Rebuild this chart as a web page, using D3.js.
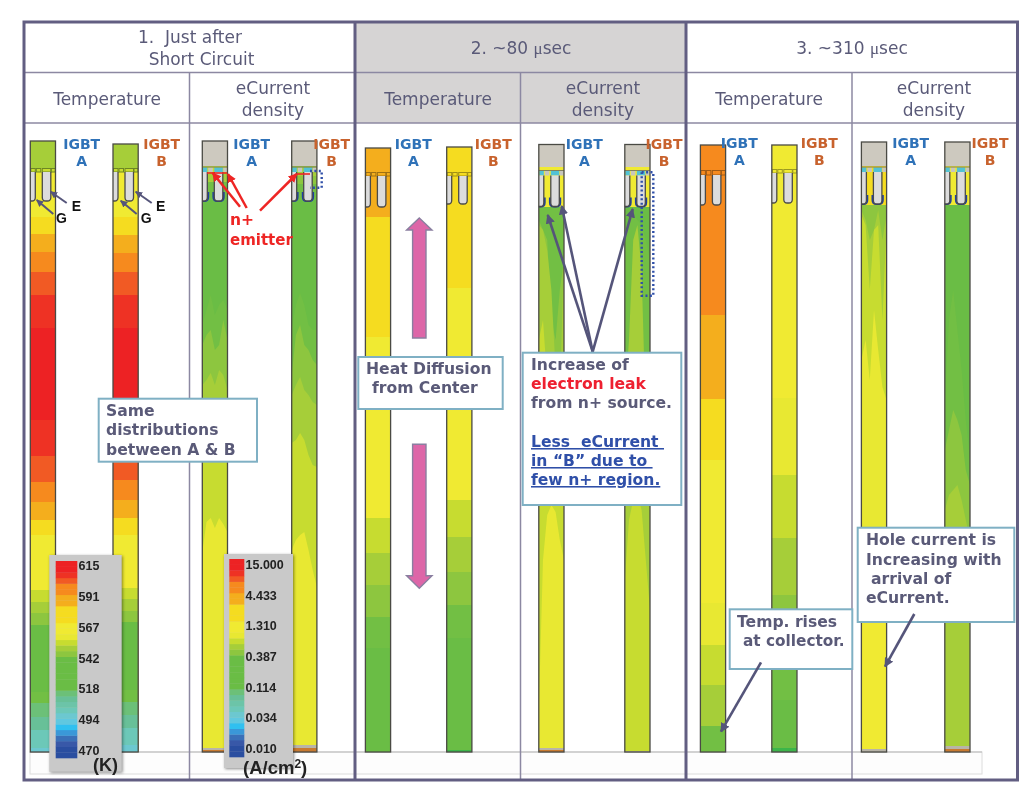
<!DOCTYPE html>
<html><head><meta charset="utf-8">
<script src="https://cdn.jsdelivr.net/npm/d3@7/dist/d3.min.js"></script>
<style>
html,body{margin:0;padding:0;background:#fff}
svg{display:block;filter:blur(0.35px)}
text{white-space:pre}
</style></head><body><svg id="c" width="1036" height="792"></svg>
<script>
// ---------- DATA ----------
// colour levels of the simulation (low to high), plus a few material colours
const levelColors = ['#2a4ea0','#3858a8','#3a70b8','#3a98d8','#30c0f0','#60c8e0','#6cc8d0','#6cc8b8','#6cc4a8','#68c098','#6cc078','#6abd45','#72bf44','#8dc63f','#a6ce39','#c7dc30','#e8e832','#f0ea32','#f5dc20','#f4ae1d','#f68a1e','#f15a24','#ee3224','#ed2224','#b8b4a8','#c87a30','#cdc9bf','#3cb54a'];
const GREY=24, BROWN=25, CAP=26, BRIGHT=27;
const legendSteps = [23,23,22,21,20,20,19,19,18,18,18,17,17,16,15,14,13,11,11,11,11,11,11,10,9,8,7,6,5,4,3,2,1,0,0].reverse();
const tempTicks = ['615','591','567','542','518','494','470'];
const currentTicks = ['15.000','4.433','1.310','0.387','0.114','0.034','0.010'];
const temperatureUnit = '(K)';
const panelTitles = [['1.  Just after','Short Circuit'],['2. ~80 ','μ','sec'],['3. ~310 ','μ','sec']];
const columnTitles = [['Temperature'],['eCurrent','density']];

// each band: [depth where it starts (one value, or a profile across the width), colour level]
const t1a = [[0,14],[28,15],[32,17],[77,18],[94,19],[112,20],[132,21],[155,22],[188,23],[280,22],[316,21],[342,20],[362,19],[380,18],[395,17],[450,15],[462,14],[473,13],[485,11],[552,12],[563,10],[577,9],[590,7],[608,6]];
const t1b = [[0,14],[28,15],[32,17],[77,18],[95,19],[113,20],[132,21],[155,22],[188,23],[275,22],[312,21],[340,20],[360,19],[378,18],[395,17],[448,15],[459,14],[471,13],[482,11],[550,12],[562,10],[575,9],[588,7],[605,6]];
const e1a = [[0,CAP],[26,15],[34,14],[42,12],[60,11],[[185,170,155,175,165,160,170],12],[[205,195,190,210,205,180,200],13],[[245,240,233,245,230,235,250],14],[[305,300,296,300,298,300,306],15],[[412,382,378,388,378,384,392],16],[608,GREY],[610,BROWN]];
const e1b = [[0,CAP],[26,14],[36,13],[44,12],[60,11],[[188,165,153,165,185,190,190],12],[[235,195,185,205,210,220,225],13],[[255,245,237,250,255,262,265],14],[[303,300,293,300,315,325,327],15],[[410,400,395,392,410,430,447],16],[605,GREY],[608,BROWN]];
const t2a = [[0,19],[77,18],[197,17],[378,15],[413,14],[445,13],[477,12],[508,11]];
const t2b = [[0,18],[148,17],[360,15],[397,14],[432,13],[465,12],[498,11],[610,BRIGHT]];
const e2a = [[0,CAP],[27,17],[67,12],[[80,90,100,180,200,150,120],13],[[85,90,110,150,230,260,110],14],[[200,180,240,300,310,290,250],15],[[570,420,375,365,372,400,420],16],[608,GREY],[610,BROWN]];
const e2b = [[0,CAP],[27,17],[67,11],[[90,80,75,80,85,100,120],12],[[260,200,100,85,130,280,330],14],[[440,380,360,355,370,420,470],15],[611,GREY]];
const t3a = [[0,20],[175,19],[259,18],[320,17],[463,16],[505,15],[545,14],[586,12]];
const t3b = [[0,17],[258,16],[335,15],[398,14],[455,13],[490,12],[560,11],[608,BRIGHT]];
const e3a = [[0,CAP],[26,18],[65,13],[[70,80,100,90,70,100,75],14],[[75,85,150,90,85,180,85],15],[[220,200,240,170,210,247,260],16],[440,17],[609,GREY]];
const e3b = [[0,CAP],[26,17],[65,11],[[260,180,150,190,230,280,320],12],[[310,290,270,280,295,330,345],13],[[370,355,350,345,360,380,400],14],[606,GREY],[609,BROWN]];

// ---------- LAYOUT ----------
const NAVY='#5a5a78', svg=d3.select('#c');
const y = d3.scaleLinear().domain([0,612]).range([140,752]);
const levelColor = d3.scaleOrdinal(d3.range(levelColors.length), levelColors);
const SANS='"DejaVu Sans",sans-serif';

const T=22,R1=72.5,R2=123,B=780,L=24,RR=1017.5;
const majors=[355,686], minors=[189.5,520.5,852];

svg.append('rect').attr('x',L).attr('y',T).attr('width',RR-L).attr('height',B-T).attr('fill','#fff');
svg.append('rect').attr('x',355).attr('y',T).attr('width',331).attr('height',R2-T).attr('fill','#d6d4d4');
// bottom strip
svg.append('rect').attr('x',30).attr('y',752).attr('width',952).attr('height',22).attr('fill','#fdfdfd').attr('stroke','#dcdcdc');
svg.append('line').attr('x1',30).attr('x2',982).attr('y1',752).attr('y2',752).attr('stroke','#b8b8b8').attr('stroke-width',1.2);

const barsDef=[
 {b:t1a,x:30.3,top:1,cap:27,row:31,end:60,mode:'T'},
 {b:t1b,x:113,top:4,cap:24,row:28,end:57,mode:'T'},
 {b:e1a,x:202.3,top:1,cap:26,row:31,end:60,mode:'E'},
 {b:e1b,x:291.7,top:1,cap:26,row:31,end:60,mode:'E'},
 {b:t2a,x:365.4,top:8,cap:24,row:28,end:59,mode:'T'},
 {b:t2b,x:446.7,top:7,cap:25,row:29,end:57,mode:'T'},
 {b:e2a,x:538.8,top:4.5,cap:26,row:31,end:62,mode:'E'},
 {b:e2b,x:624.8,top:4.5,cap:26,row:31,end:62,mode:'E'},
 {b:t3a,x:700.4,top:5,cap:25,row:30,end:60,mode:'T'},
 {b:t3b,x:771.8,top:5,cap:24,row:28,end:58,mode:'T'},
 {b:e3a,x:861.4,top:2,cap:25,row:30,end:62,mode:'E'},
 {b:e3b,x:944.8,top:2,cap:25,row:30,end:62,mode:'E'}
];
const W=25.2;
barsDef.forEach((d,i)=>{
  const g=svg.append('g');
  const xs=d3.scaleLinear().domain([0,1]).range([d.x,d.x+W]);
  const id='clip'+i;
  svg.append('clipPath').attr('id',id).append('rect').attr('x',d.x).attr('y',y(d.top)).attr('width',W).attr('height',y(612)-y(d.top));
  g.attr('clip-path',`url(#${id})`);
  d.b.forEach(([start,lv])=>{
    const prof=Array.isArray(start)?start:[start,start];
    const top=Math.max(d.top,0);
    const area=d3.area().x((v,k)=>xs(k/(prof.length-1))).y0(y(612)).y1(v=>y(Math.max(v,top)));
    g.append('path').attr('d',area(prof)).attr('fill',levelColor(lv));
  });
  const ty=y(d.top), cy=ty+d.cap, ry=y(d.top)+d.row, ey=y(d.top)+d.end;
  // trench row
  const cells=[[0.5,5],[6,10.5],[12,20.5],[21,25]];
  cells.forEach((c,k)=>{
    const r=g.append('rect').attr('x',d.x+c[0]).attr('y',cy+0.5).attr('width',c[1]-c[0]).attr('height',ry-cy-0.5);
    if(d.mode==='E') r.attr('fill',k%2===0&&k<3?'#52c2d6':'#c8c6bc');
    else r.attr('fill','none').attr('stroke',d3.color(levelColor(d.b[0][1])).darker(1.2)).attr('stroke-width',1);
  });
  // trenches (gate capsules)
  const capsule=(x1,x2,r,from)=>`M${x1},${from} V${ey-r} Q${x1},${ey} ${x1+r},${ey} H${x2-r} Q${x2},${ey} ${x2},${ey-r} V${from}`;
  [[ -3,5],[12,20.5]].forEach(([a,b])=>{
    const x1=d.x+a,x2=d.x+b;
    if(d.mode==='E') g.append('path').attr('d',capsule(x1-0.9,x2+0.9,4,ey-9)).attr('fill','none').attr('stroke','#1f3f9f').attr('stroke-width',2);
    g.append('path').attr('d',capsule(x1,x2,3.5,ry)).attr('fill','#dcdcdc').attr('stroke','#4a4a4a').attr('stroke-width',1.3);
  });
  if(d.mode==='E') g.append('line').attr('x1',d.x).attr('x2',d.x+W).attr('y1',cy).attr('y2',cy).attr('stroke','#666').attr('stroke-width',0.8);
  svg.append('rect').attr('x',d.x).attr('y',ty).attr('width',W).attr('height',y(612)-ty).attr('fill','none').attr('stroke','#4a4a44').attr('stroke-width',1.3);
});

// grid
const gridThin='#8c88a2', gridHeavy='#625e82';
[R1,R2].forEach(v=>svg.append('line').attr('x1',L).attr('x2',RR).attr('y1',v).attr('y2',v).attr('stroke',gridThin).attr('stroke-width',1.4));
minors.forEach((x,i)=>svg.append('line').attr('x1',x).attr('x2',x).attr('y1',R1).attr('y2',B).attr('stroke',gridThin).attr('stroke-width',1.5));
majors.forEach(x=>svg.append('line').attr('x1',x).attr('x2',x).attr('y1',T).attr('y2',B).attr('stroke',gridHeavy).attr('stroke-width',3));
svg.append('rect').attr('x',L).attr('y',T).attr('width',RR-L).attr('height',B-T).attr('fill','none').attr('stroke',gridHeavy).attr('stroke-width',3);

function txt(x,yy,s,o={}){
  return svg.append('text').attr('x',x).attr('y',yy).text(s)
   .attr('font-family',o.f||SANS).attr('font-size',o.s||17).attr('font-weight',o.w||'normal')
   .attr('fill',o.c||NAVY).attr('text-anchor',o.a||'start');
}
// headers
txt(190,43,panelTitles[0][0],{a:'middle'});
txt(201.5,65,panelTitles[0][1],{a:'middle'});
[[521,1],[852,2]].forEach(([x,i])=>{
  const t=txt(x,54,panelTitles[i][0],{a:'middle'});
  t.append('tspan').attr('font-family','"Liberation Serif",serif').text(panelTitles[i][1]);
  t.append('tspan').text(panelTitles[i][2]);
});
[[107,273],[438,603],[769,934]].forEach(([a,b])=>{
  txt(a,105,columnTitles[0][0],{a:'middle'});
  txt(b,94,columnTitles[1][0],{a:'middle'});
  txt(b,116,columnTitles[1][1],{a:'middle'});
});
// IGBT labels
const BLUE='#2f72b8', ORNG='#c8622d';
[[81.7,149,'A'],[161.7,149,'B'],[251.7,149,'A'],[331.7,149,'B'],[413.3,149,'A'],[493.3,149,'B'],[584.3,149,'A'],[664,149,'B'],[739.3,148,'A'],[819.3,148,'B'],[910.7,148,'A'],[990,148,'B']].forEach(([x,b,n])=>{
  const c=n==='A'?BLUE:ORNG;
  txt(x,b,'IGBT',{a:'middle',w:'bold',s:14,c});
  txt(x,b+16.5,n,{a:'middle',w:'bold',s:14,c});
});
// arrows
const defs=svg.append('defs');
[['hN',NAVY],['hR','#ee2524'],['hK','#55557a']].forEach(([id,c])=>{
  defs.append('marker').attr('id',id).attr('viewBox','0 0 10 10').attr('refX',9).attr('refY',5).attr('markerWidth',3.6).attr('markerHeight',3.6).attr('orient','auto')
   .append('path').attr('d','M0,0 L10,5 L0,10 Z').attr('fill',c);
});
function arrow(a,b,c,d,col,id,w){
  svg.append('line').attr('x1',a).attr('y1',b).attr('x2',c).attr('y2',d).attr('stroke',col).attr('stroke-width',w).attr('marker-end',`url(#${id})`);
}
[[66.7,203,50.7,191.7],[53.3,214,36.7,200],[151.7,203,135.7,191.7],[136.7,214,120.7,200.7]].forEach(p=>arrow(...p,'#55557a','hK',2));
[[71.7,210.7,'E'],[56,223,'G'],[156,210.7,'E'],[140.7,223,'G']].forEach(([x,b,t])=>txt(x,b,t,{f:'"Liberation Sans",sans-serif',w:'bold',s:14,c:'#111'}));
// n+ emitter
[[207,227,173],[297,310,174]].forEach(([a,b,yy])=>svg.append('line').attr('x1',a).attr('x2',b).attr('y1',yy).attr('y2',yy).attr('stroke','#ee2524').attr('stroke-width',1.6));
[[240,206.7,212.7,173],[246.7,208,228,174],[260,210.7,296.7,174]].forEach(p=>arrow(...p,'#ee2524','hR',2.5));
txt(230,225,'n+',{w:'bold',s:15.5,c:'#ee2524'});
txt(230,245,'emitter',{w:'bold',s:15,c:'#ee2524'});
// dotted outlines
const dotted=pts=>svg.append('path').attr('d',d3.line()(pts)).attr('fill','none').attr('stroke','#2f4fa8').attr('stroke-width',2.4).attr('stroke-dasharray','2 2.4');
dotted([[310,171],[321.7,171],[321.7,187.7],[310,187.7]]);
dotted([[641.7,172.3],[653.3,172.3],[653.3,295.7],[641.7,295.7],[641.7,172.3]]);
[[592.7,351.7,547.7,215],[592.7,351.7,561.7,206],[592.7,351.7,632.7,209]].forEach(p=>arrow(...p,'#55557a','hK',2.6));
// pink arrows
const pink=pts=>svg.append('path').attr('d',d3.line()(pts)+'Z').attr('fill','#dd66a8').attr('stroke','#8a7fa0').attr('stroke-width',1.4);
const cx=419.3;
pink([[cx,218],[cx+12.7,230],[cx+6.7,230],[cx+6.7,338],[cx-6.7,338],[cx-6.7,230],[cx-12.7,230]]);
pink([[cx,588.3],[cx+12.7,575.7],[cx+6.7,575.7],[cx+6.7,444.3],[cx-6.7,444.3],[cx-6.7,575.7],[cx-12.7,575.7]]);
// legends
function legend(x0,x1,y0,y1,sx0,sx1,sy0,sy1,ticks,ty0,ty1,tx){
  svg.append('rect').attr('x',x0).attr('y',y0).attr('width',x1-x0).attr('height',y1-y0).attr('fill','#c9c9c9').style('filter','drop-shadow(1.5px 1.5px 1.5px rgba(0,0,0,.45))');
  const band=d3.scaleBand().domain(d3.range(legendSteps.length)).range([sy1,sy0]);
  legendSteps.forEach((lv,i)=>svg.append('rect').attr('x',sx0).attr('width',sx1-sx0).attr('y',band(i)).attr('height',band.bandwidth()+0.3).attr('fill',levelColor(lv)));
  const p=d3.scalePoint().domain(ticks).range([ty0,ty1]);
  ticks.forEach(t=>txt(tx,p(t),t,{f:'"Liberation Sans",sans-serif',w:'bold',s:12.5,c:'#222'}));
}
legend(49.3,121.7,555,771.7,55.7,77.3,561,758,tempTicks,570,755,78.5);
legend(224,293,554,768,229.3,244.3,559,757,currentTicks,569,753,245.5);
txt(93,771,temperatureUnit,{f:'"Liberation Sans",sans-serif',w:'bold',s:18,c:'#222'});
const unit=txt(243,774,'(A/cm',{f:'"Liberation Sans",sans-serif',w:'bold',s:18.5,c:'#222'});
unit.append('tspan').attr('font-size',12).attr('dy',-6).text('2');
unit.append('tspan').attr('dy',6).text(')');
// callouts
function box(x0,x1,y0,y1){svg.append('rect').attr('x',x0).attr('y',y0).attr('width',x1-x0).attr('height',y1-y0).attr('fill','#fff').attr('stroke','#7fb0c4').attr('stroke-width',2);}
const bold={w:'bold',s:15.6};
box(98.7,257,398.7,461.7);
txt(106,416,'Same',bold);txt(106,435,'distributions',bold);txt(106,455,'between A & B',bold);
box(358.3,502.7,357,409);
txt(366,374,'Heat Diffusion',bold);txt(372,393,'from Center',bold);
box(522.7,681.3,352.7,505);
txt(531,370,'Increase of',bold);
txt(531,389,'electron leak',{...bold,c:'#ee2030'});
txt(531,408,'from n+ source.',bold);
['Less  eCurrent ','in “B” due to ','few n+ region.'].forEach((t,i)=>txt(531,447+19*i,t,{...bold,c:'#2f4fa8'}).attr('text-decoration','underline'));
box(729.7,852.3,609.3,669);
txt(737,627,'Temp. rises',bold);txt(743,646,'at collector.',{...bold,s:15.3});
box(857.7,1014.3,527.7,622);
txt(866,545,'Hole current is',bold);txt(866,564.5,'Increasing with',bold);txt(871,583.5,'arrival of',bold);txt(866,603,'eCurrent.',bold);
[[761,662.3,721,731.7],[914.3,614,885,666.7]].forEach(p=>arrow(...p,'#55557a','hK',2.6));
</script></body></html>
